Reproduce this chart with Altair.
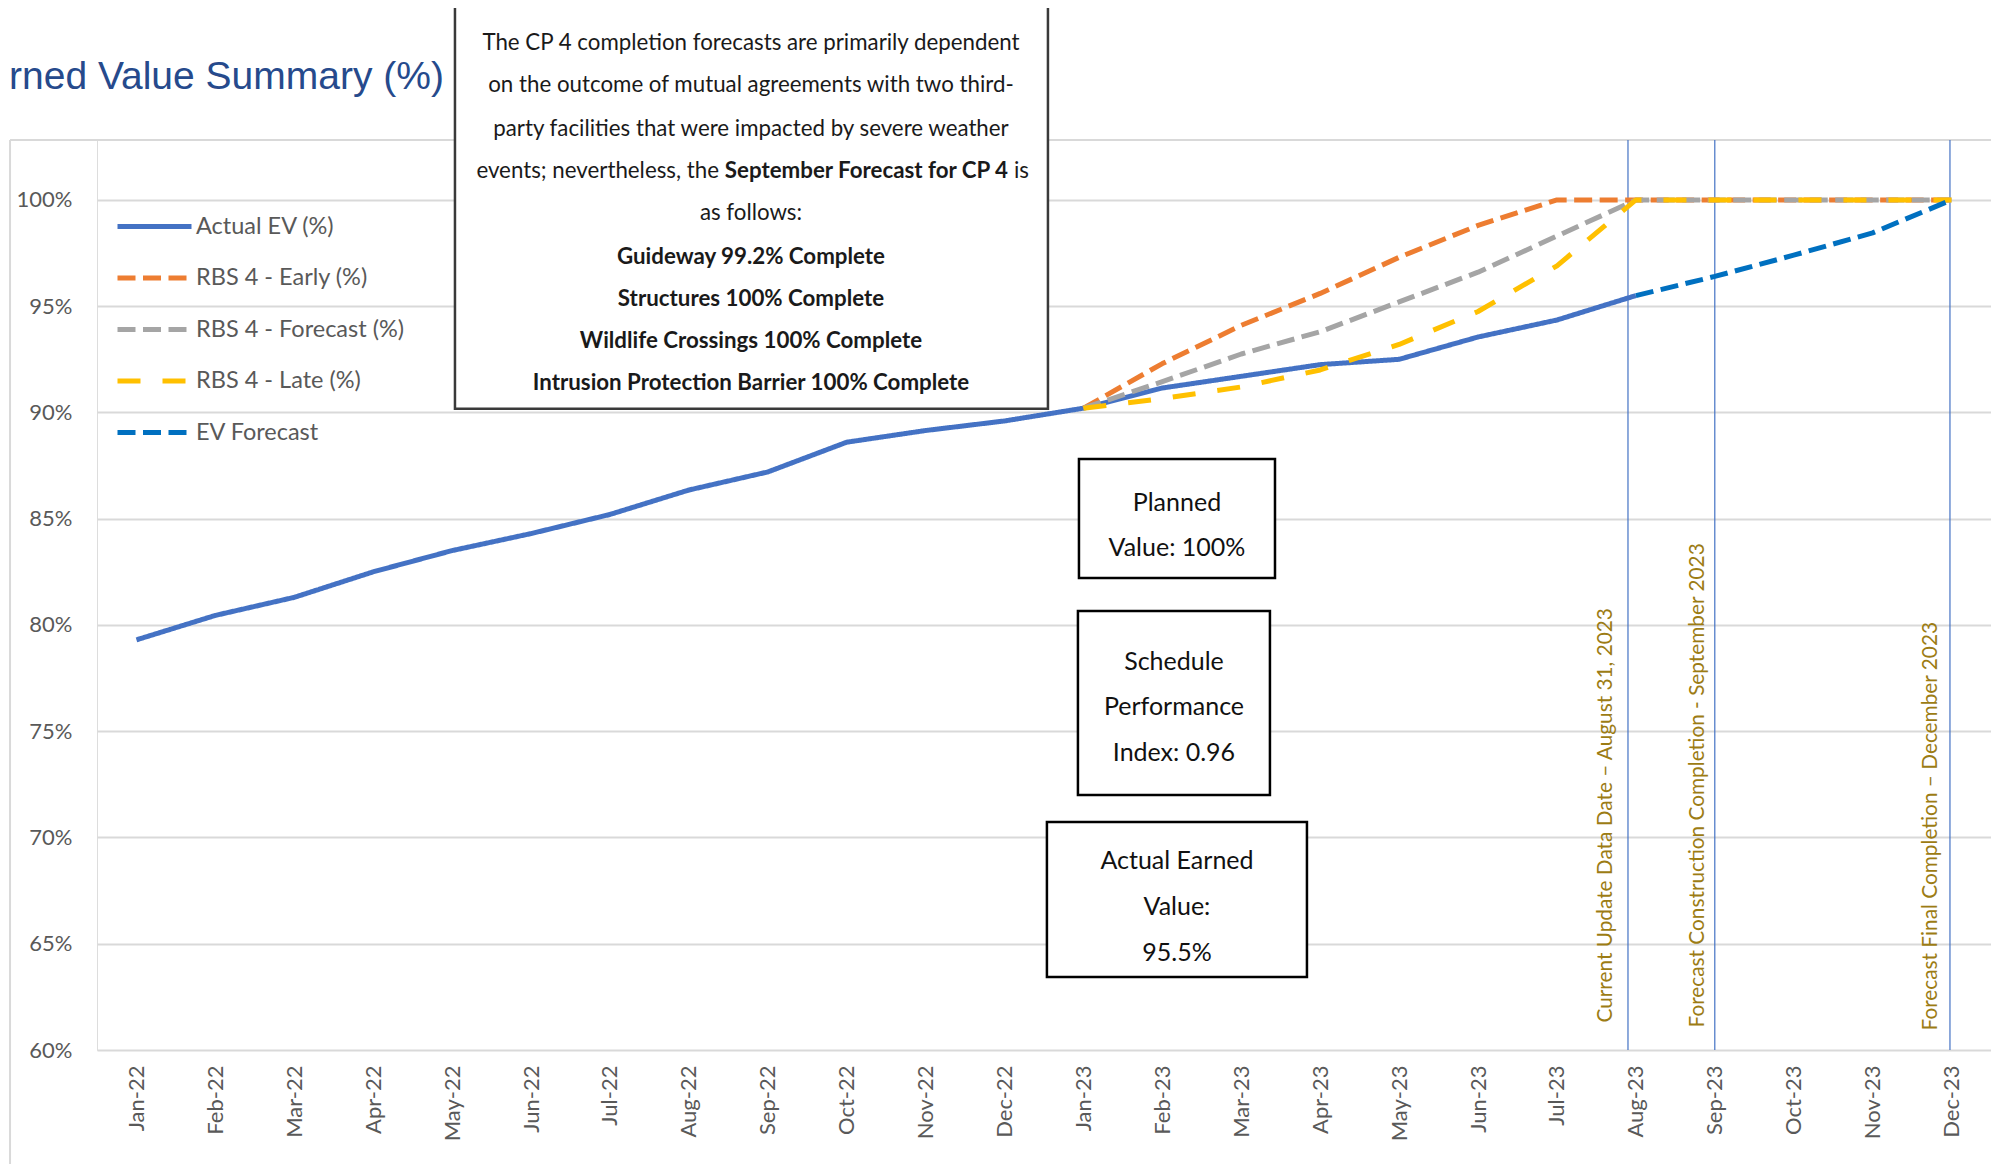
import altair as alt
import pandas as pd

# ---------------- data ----------------
months = ["Jan-22", "Feb-22", "Mar-22", "Apr-22", "May-22", "Jun-22", "Jul-22", "Aug-22",
          "Sep-22", "Oct-22", "Nov-22", "Dec-22", "Jan-23", "Feb-23", "Mar-23", "Apr-23",
          "May-23", "Jun-23", "Jul-23", "Aug-23", "Sep-23", "Oct-23", "Nov-23", "Dec-23"]

actual_ev = [79.3, 80.45, 81.3, 82.5, 83.5, 84.3, 85.2, 86.35, 87.2, 88.6, 89.15, 89.6,
             90.2, 91.15, 91.7, 92.25, 92.5, 93.55, 94.35, 95.5]          # Jan-22 .. Aug-23
rbs_early = [90.2, 92.3, 94.1, 95.6, 97.3, 98.8, 100, 100, 100, 100, 100, 100]      # Jan-23 .. Dec-23
rbs_forecast = [90.2, 91.45, 92.75, 93.8, 95.2, 96.6, 98.3, 100, 100, 100, 100, 100]
rbs_late = [90.2, 90.65, 91.2, 92.0, 93.2, 94.75, 96.9, 100, 100, 100, 100, 100]
ev_forecast = [95.5, 96.4, 97.4, 98.45, 100]                                      # Aug-23 .. Dec-23

series_names = ["Actual EV (%)", "RBS 4 - Early (%)", "RBS 4 - Forecast (%)",
                "RBS 4 - Late (%)", "EV Forecast"]
series_colors = ["#4472C4", "#ED7D31", "#A5A5A5", "#FFC000", "#0070C0"]
series_dash = [[1, 0], [18, 7.5], [18, 7.5], [23, 22], [18, 7.5]]
series_start = [0, 12, 12, 12, 19]
series_values = [actual_ev, rbs_early, rbs_forecast, rbs_late, ev_forecast]

y_ticks = [60, 65, 70, 75, 80, 85, 90, 95, 100]
Y_TOP = 102.82

# vertical milestone lines (month index positions)
milestone_x = [18.9, 20.0, 22.98]
milestone_label_x = [18.62, 19.79, 22.74]
milestone_label_y = [61.29, 61.06, 60.92]
milestone_text = ["Current Update Data Date \u2013 August 31, 2023",
                  "Forecast Construction Completion - September 2023",
                  "Forecast Final Completion \u2013 December 2023"]

# note box (top) and its lines
note_box = {"x": 4.036, "x2": 11.55, "y": 109.13, "y2": 90.17}
note_center_x = 7.787
note_line_y = [107.39, 105.41, 103.34, 101.36, 99.39, 97.32, 95.34, 93.36, 91.39]
note_lines_normal = ["The CP 4 completion forecasts are primarily dependent",
                     "on the outcome of mutual agreements with two third-",
                     "party facilities that were impacted by severe weather",
                     None,
                     "as follows:"]
note_lines_bold = ["Guideway 99.2% Complete", "Structures 100% Complete",
                   "Wildlife Crossings 100% Complete",
                   "Intrusion Protection Barrier 100% Complete"]
mixed_parts = ["events; nevertheless, the", "September Forecast for CP 4", "is"]
mixed_x = [7.381, 9.25, 11.12]

# KPI boxes
kpi_boxes = [
    {"x": 11.943, "x2": 14.427, "y": 87.81, "y2": 82.21},
    {"x": 11.93, "x2": 14.363, "y": 80.66, "y2": 72.00},
    {"x": 11.537, "x2": 14.832, "y": 70.73, "y2": 63.44},
]
kpi_text = [
    (13.185, [85.74, 83.62], ["Planned", "Value: 100%"]),
    (13.147, [78.26, 76.14, 73.98], ["Schedule", "Performance", "Index: 0.96"]),
    (13.185, [68.89, 66.73, 64.56], ["Actual Earned", "Value:", "95.5%"]),
]

title_text = "rned Value Summary (%)"
title_pos = (-1.615, 105.77)

frame_left_x = -1.602

# ---------------- build tables ----------------
rows = []
for name, start, vals in zip(series_names, series_start, series_values):
    for i, v in enumerate(vals):
        rows.append({"series": name, "idx": start + i, "value": v})
df = pd.DataFrame(rows)

x_scale = alt.Scale(domain=[-0.5, 23.5], nice=False, zero=False)
y_scale = alt.Scale(domain=[60, Y_TOP], nice=False, zero=False)

label_js = "[" + ",".join("'" + m + "'" for m in months) + "]"
x_axis = alt.Axis(values=list(range(24)), labelExpr=label_js + "[datum.value]",
                  labelAngle=270, grid=False, domain=False, ticks=False,
                  labelPadding=15, labelFont="Lato", labelFontSize=22,
                  labelColor="#595959", title=None, labelOverlap=False)
y_axis = alt.Axis(values=y_ticks, labelExpr="datum.value + '%'", grid=True,
                  gridColor="#D9D9D9", gridWidth=2, domain=False, ticks=False,
                  labelPadding=25, labelFont="Lato", labelFontSize=22,
                  labelColor="#595959", title=None)

X = lambda f: alt.X(f, type="quantitative", scale=x_scale, axis=x_axis)
Y = lambda f: alt.Y(f, type="quantitative", scale=y_scale, axis=y_axis)

legend = alt.Legend(orient="none", legendX=18, legendY=47, title=None,
                    symbolType="stroke", symbolSize=5476, symbolStrokeWidth=5,
                    labelFont="Lato", labelFontSize=23.5, labelColor="#595959",
                    labelOffset=2, rowPadding=0.5, padding=0, labelLimit=400)

lines = alt.Chart(df).mark_line(strokeWidth=5, strokeJoin="round").encode(
    x=X("idx"), y=Y("value"),
    color=alt.Color("series:N", scale=alt.Scale(domain=series_names, range=series_colors),
                    legend=legend, sort=series_names),
    strokeDash=alt.StrokeDash("series:N", scale=alt.Scale(domain=series_names, range=series_dash),
                              legend=legend, sort=series_names),
)

# chart-area frame
frame_df = pd.DataFrame([
    {"x": frame_left_x, "x2": frame_left_x, "y": 50, "y2": Y_TOP},
    {"x": frame_left_x, "x2": 26, "y": Y_TOP, "y2": Y_TOP},
])
frame = alt.Chart(frame_df).mark_rule(color="#D9D9D9", strokeWidth=2).encode(
    x=X("x"), x2="x2", y=Y("y"), y2="y2")

ms_df = pd.DataFrame({"x": milestone_x, "y": [60] * 3, "y2": [Y_TOP] * 3})
ms_rules = alt.Chart(ms_df).mark_rule(color="#4472C4", strokeWidth=1.2).encode(
    x=X("x"), y=Y("y"), y2="y2")

msl_df = pd.DataFrame({"x": milestone_label_x, "y": milestone_label_y, "t": milestone_text})
ms_labels = alt.Chart(msl_df).mark_text(angle=270, align="left", baseline="middle",
                                        font="Lato", fontSize=20.8, color="#9C7C14").encode(
    x=X("x"), y=Y("y"), text="t:N")

note_rect = alt.Chart(pd.DataFrame([note_box])).mark_rect(
    fill="white", stroke="#3A3A3A", strokeWidth=2.5).encode(
    x=X("x"), x2="x2", y=Y("y"), y2="y2")

FS = 22.3
normal_rows = [{"x": note_center_x, "y": note_line_y[i], "t": t}
               for i, t in enumerate(note_lines_normal) if t is not None]
bold_rows = [{"x": note_center_x, "y": note_line_y[5 + i], "t": t}
             for i, t in enumerate(note_lines_bold)]
note_normal = alt.Chart(pd.DataFrame(normal_rows)).mark_text(
    font="Lato", fontSize=FS, color="#1A1A1A", align="center", baseline="middle").encode(
    x=X("x"), y=Y("y"), text="t:N")
note_bold = alt.Chart(pd.DataFrame(bold_rows)).mark_text(
    font="Lato", fontSize=FS, fontWeight="bold", color="#1A1A1A", align="center",
    baseline="middle").encode(x=X("x"), y=Y("y"), text="t:N")

mix_y = note_line_y[3]
mix_a = alt.Chart(pd.DataFrame([{"x": mixed_x[0], "y": mix_y, "t": mixed_parts[0]}])).mark_text(
    font="Lato", fontSize=FS, color="#1A1A1A", align="right", baseline="middle").encode(
    x=X("x"), y=Y("y"), text="t:N")
mix_b = alt.Chart(pd.DataFrame([{"x": mixed_x[1], "y": mix_y, "t": mixed_parts[1]}])).mark_text(
    font="Lato", fontSize=FS, fontWeight="bold", color="#1A1A1A", align="center",
    baseline="middle").encode(x=X("x"), y=Y("y"), text="t:N")
mix_c = alt.Chart(pd.DataFrame([{"x": mixed_x[2], "y": mix_y, "t": mixed_parts[2]}])).mark_text(
    font="Lato", fontSize=FS, color="#1A1A1A", align="left", baseline="middle").encode(
    x=X("x"), y=Y("y"), text="t:N")

kpi_rect = alt.Chart(pd.DataFrame(kpi_boxes)).mark_rect(
    fill="white", stroke="black", strokeWidth=2.5).encode(
    x=X("x"), x2="x2", y=Y("y"), y2="y2")
kpi_rows = []
for cx, ys, ts in kpi_text:
    for yy, tt in zip(ys, ts):
        kpi_rows.append({"x": cx, "y": yy, "t": tt})
kpi_txt = alt.Chart(pd.DataFrame(kpi_rows)).mark_text(
    font="Lato", fontSize=25, color="#111111", align="center", baseline="middle").encode(
    x=X("x"), y=Y("y"), text="t:N")

title = alt.Chart(pd.DataFrame([{"x": title_pos[0], "y": title_pos[1], "t": title_text}])).mark_text(
    font="Liberation Sans", fontSize=39, color="#264A8C", align="left", baseline="middle").encode(
    x=X("x"), y=Y("y"), text="t:N")

chart = alt.layer(frame, ms_rules, ms_labels, lines, note_rect, note_normal, note_bold,
                  mix_a, mix_b, mix_c, kpi_rect, kpi_txt, title).properties(
    width=1894, height=910,
    padding={"left": 89, "top": 132, "right": 0, "bottom": 114},
    autosize=alt.AutoSizeParams(type="none"),
).configure_view(stroke=None).configure(background="white")

chart.save("out.html", embed_options={"renderer": "svg", "actions": False})
